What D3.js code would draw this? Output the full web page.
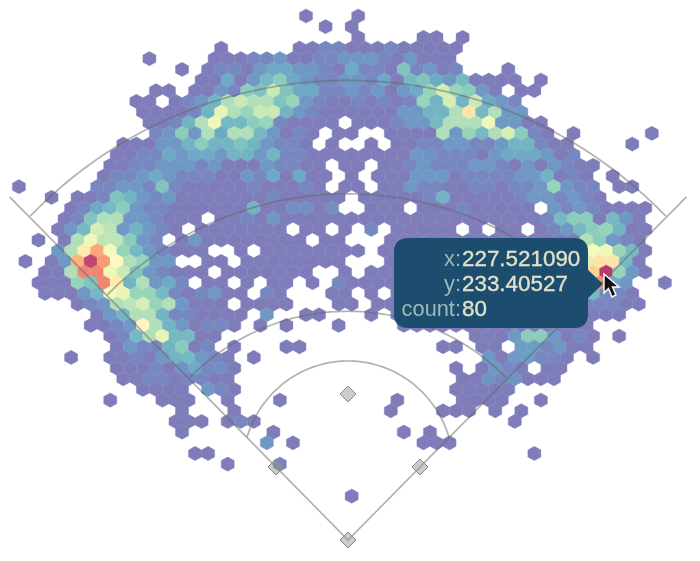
<!DOCTYPE html>
<html><head><meta charset="utf-8">
<script src="https://cdnjs.cloudflare.com/ajax/libs/d3/7.8.5/d3.min.js"></script>
<style>html,body{margin:0;padding:0;background:#fff}svg{display:block;filter:blur(.7px)}</style>
</head><body><svg id="c" width="700" height="561"></svg>
<script>
// hit counts per hex row: each segment is [first column, count, count, ...]
const hexRows = [
[[0,1],[4,1]],
[[1,1],[3,1]],
[[4,1],[9,1,1],[12,1]],
[[-7,1],[-1,1,1,3,3,1,1,1,3,1,1,1,1,1]],
[[-12,1],[-7,1,1,1,3,3,6,1,1,3,3,6,6,6,3,1,6,1,1,1]],
[[-10,1],[-8,1,3,3,1,6,9,9,6,6,3,1,9,3,3,1,14,3,6,1,3],[15,1]],
[[-8,1,1,9,1,6,12,16,9,6,3,3,6,6,3,9,1,12,14,9,6,12,1,1,1,1],[18,1]],
[[-12,1,1],[-9,1,1,6,3,16,14,26,14,9,9,3,3,6,3,6,1,6,9,18,28,18,16,6,1],[16,1,1]],
[[-13,1,1],[-10,1,3,6,11,22,26,22,22,14,18,6,3,1,1,3,1,3,1,3,18,11,28,11,26,9,6,3]],
[[-13,1,1,1,1,3,11,32,22,18,26,26,11,6,3],[1,1,1,1,1,1,1,6,6,11,11,22,48,12,22,6,6]],
[[-12,1,1,3,11,22,34,12,12,16,18,3,1,1,1,1],[4,1,1,1,3,6,6,12,22,22,22,34,6,6,1,1]],
[[-12,3,6,16,6,22,9,22,22,12,6,1,3,1],[2,1,1],[6,1,1,1,1,22,6,18,12,22,28,16,3,1],[20,1],[26,1]],
[[-14,1,1,1,6,6,11,16,11,11,14,11,6,3,3,1],[2,1],[5,1],[7,1,1,3,3,6,6,3,3,6,11,11,3,1,1],[25,1]],
[[-15,1,1,3,3,9,6,9,9,6,11,11,6,11,3,3,1,1,1,1,1,1,1,1,6,5,3,3,3,1,6,9,9,9,6,1,3]],
[[-15,1,1,3,3,6,6,6,3,6,1,1,1,6,3,3,1,1],[3,1,1],[6,1,1,3,6,3,3,3,6,6,3,1,6,1,6,3,1,1]],
[[-16,1,3,3,6,9,6,3,3,3,1,1,6,3,9,1,9,1,1],[3,1],[5,1,1,1,6,6,6,1,3,3,3,3,6,6,11,1,3,1],[23,1]],
[[-22,1],[-16,3,3,6,6,3,14,3,1,1,1,1,1,3,1,1,1,3,1],[3,1,1],[6,1,1,6,3,3,1,1,3,3,1,3,3,6,18,6,3,3],[24,1,1]],
[[-20,1],[-18,1,1,3,14,11,6,3,6,1,1,1,1,1,1,1,3,1,1,1,1,1],[4,1,1,1,1,1,3,11,1,1,1,1,1,3,6,6,3,6,3,1]],
[[-18,1,3,9,12,16,6,3,3,1,1,1,1,1,1,11,1,1,4,4,1,4],[5,1,1,1],[9,1,1,1,3,1,1,1,1,1],[19,6,3,6,3,1,1,1,1]],
[[-19,1,3,14,22,22,6,6,3,1,1,1],[-7,1,1,3,1,6,1,1,1,1,1,1,1,1,1,1,1,1,1,1,1,1,1,1,1,1,3,12,16,16,1,12,6,1]],
[[-19,1,6,12,28,24,6,11,6,3,1],[-8,1,1,1,1,1,1,1],[0,1,1],[3,1],[5,3],[7,1,1,1,1,1],[13,1],[15,1,1],[18,1,3,6,12,16,18,11,1,1]],
[[-21,1],[-19,1,22,34,24,24,16,6,3],[-10,1,6,1,1,1,1,1,1,1,1],[1,1,1],[6,1,1,1,1,1,1,1,1,1,1,1,1,1,1,1,22,16,6,3,1]],
[[-19,6,22,46,60,36,18,12,6,3,1,1,1],[-5,1],[-3,1,1,1,1,1,1,1,1],[6,1,1,1,1,1,1,1,1,1,1,1,1,1,1,1,1,36,34,18,12,1]],
[[-22,1],[-20,1,6,58,78,62,40,22,18,6,6],[-8,1,1],[-5,1,1,1,1,1,1,1,1],[6,1,1,1,1,1,1,1,1,1,1,1,1,1,1,1,30,48,48,12,1]],
[[-20,1,1,22,66,66,34,26,14,6,3,1,1,1],[-6,1,1,1,1,1,1,1],[3,1],[5,1,1,1,1,1,1,1,1,1,1,1,1,1,1,1,1,1,52,80,18,6,1]],
[[-21,1,1,1,18,14,66,46,11,22,6,9,3],[-8,1,1],[-5,1],[-3,1,1],[0,1],[2,3,1,1,1,1,1,1,1,1,1,1,1,1,1,1,1,1,1,1,1,64,9,6],[27,1]],
[[-20,1,1,1,6,12,36,32,18,18,12,3,1,3,6,1,1],[-3,3,1],[2,1,1],[5,1],[7,1,1,1,1,1,1,1,1,1,1,1,1,1,1,1,12,3,3,1]],
[[-18,1,3,6,22,24,28,18,22,6,1,1,1],[-5,1,1,1,1],[2,1,1],[5,1,1,1,1,1,1,1,1,1,1,1,1,1,1,1,1,3,3,3,1,1]],
[[-16,1,6,11,22,22,11,3,3,1,1,1,1],[-3,6],[0,1,1],[5,1],[7,1,1,1,1,1,1,1,1,1,1,1,1,1,1,1,1,1,1]],
[[-17,1,1,3,6,42,22,11,6,1,3,3,1],[-4,1],[-2,1],[2,1],[7,1,1,1,1,1,1,1,1,1,1,1,1,1,1,1]],
[[-15,1,3,12,22,32,12,12,1,1],[13,1,1,1,6,16,16,6,1,3,1],[24,1]],
[[-15,1,6,3,3,11,16,1,3],[-6,1],[-2,1,1],[10,1,1],[13,1,1],[16,7,7,3,6,1,1]],
[[-18,1],[-15,1,1,3,1,6,11,12,6,3,1],[-4,1],[14,6,1,6,7,3,3,1],[22,1]],
[[-15,1,1,1,3,1,5,9,3,4,1],[11,1],[13,1,6,3,1],[18,1,1]],
[[-14,1,1,3,3,1,3,3,1,1],[12,1,1,5,3,5,1,1,1]],
[[-13,1,1,1,1],[-8,6,3,1],[11,1,1,1,1,1]],
[[-15,1],[-11,1,1,1],[-6,1],[-2,1],[7,1],[12,1,1,1,1],[18,1]],
[[-10,1],[-6,1],[6,1],[10,1,1,1],[14,1],[16,1]],
[[-10,1,1,1],[-6,1,3,1],[16,1]],
[[-10,1],[-3,1],[7,1],[9,1]],
[[-3,6],[-1,1],[9,1,1,1]],
[[-9,1,1],[17,1]],
[[-6,1],[-2,2]],
[],
[],
[[3,1]]
];
const maxCount = 80;
// diamond bases, foul-line reach and arcs in field feet from home plate
const bases = [[0,0],[-90,90],[90,90],[0,180]];
const foulReach = 423;
const arcCenters = [89,2,0.7,11.6];
const arcRadii = [131.7,280,426,555];
const arcSweeps = [73.2,44.8,45,45.7];
const tipLabels = ["x:","y:","count:"];
const tipValues = ["227.521090","233.40527","80"];

const svg = d3.select("#c");
const col = d3.scaleLinear().domain([0,1]).range([306,319.05]);
const row = d3.scaleLinear().domain([0,1]).range([16,26.67]);
const color = d3.scaleSequential(t=>d3.interpolateSpectral(1-t)).domain([0,maxCount]);
const fx = d3.scaleLinear().domain([-90,90]).range([276,420]);
const fy = d3.scaleLinear().domain([0,180]).range([540,394]);

const cells = [];
hexRows.forEach((segs,r)=>segs.forEach(([start,...vals])=>vals.forEach((v,i)=>{
  if(v>0) cells.push({r,c:start+i,v});
})));
const hw = (col(1)-col(0))/2, hh = (row(1)-row(0))*2/3;
const hexPath = `M0,${-hh}L${hw},${-hh/2}L${hw},${hh/2}L0,${hh}L${-hw},${hh/2}L${-hw},${-hh/2}Z`;
svg.append("g").attr("opacity",.77).selectAll("path").data(cells).join("path")
  .attr("d",hexPath)
  .attr("transform",d=>`translate(${col(d.c+(d.r%2?0.5:0))},${row(d.r)})`)
  .attr("fill",d=>color(d.v)).attr("stroke",d=>color(d.v)).attr("stroke-width",.4);

const field = svg.append("g").attr("fill","none").attr("stroke","#666").attr("stroke-opacity",.5).attr("stroke-width",1.7);
const line = d3.line().x(d=>fx(d[0])).y(d=>fy(d[1]));
field.append("path").attr("d",line([[-foulReach,foulReach],[0,0],[foulReach,foulReach]]));
arcRadii.forEach((R,i)=>{
  const s=arcSweeps[i]*Math.PI/180;
  const pts=d3.range(-s,s+1e-6,s/60).map(a=>[R*Math.sin(a),arcCenters[i]+R*Math.cos(a)]);
  field.append("path").attr("d",line(pts));
});
svg.append("g").selectAll("path").data(bases).join("path")
  .attr("d","M0,-8L8,0L0,8L-8,0Z")
  .attr("transform",d=>`translate(${fx(d[0])},${fy(d[1])})`)
  .attr("fill","#999").attr("fill-opacity",.5).attr("stroke","#888").attr("stroke-width",1);

// tooltip
const tip = svg.append("g");
tip.append("path").attr("d","M409,238H574Q588,238 588,252V270L603,284L588,298V314Q588,328 574,328H409Q394,328 394,314V252Q394,238 409,238Z").attr("fill","#1d4d6e");
const tipText = tip.append("g").attr("font-family","'Liberation Sans',Arial,sans-serif").attr("font-size",21.8);
tipLabels.forEach((l,i)=>{
  const y=266+i*25;
  tipText.append("text").attr("x",461).attr("y",y).attr("text-anchor","end").attr("fill","#9fb8b8").text(l);
  tipText.append("text").attr("x",462).attr("y",y).attr("font-size",22.4).attr("fill","#e2e2ca").attr("stroke","#e2e2ca").attr("stroke-width",.35).text(tipValues[i]);
});
// pointer
svg.append("path").attr("d","M604,274V293L608.5,288.5L612,297L616,295L612.5,287H619Z").attr("fill","#111").attr("stroke","#fff").attr("stroke-width",1.4);
</script></body></html>
